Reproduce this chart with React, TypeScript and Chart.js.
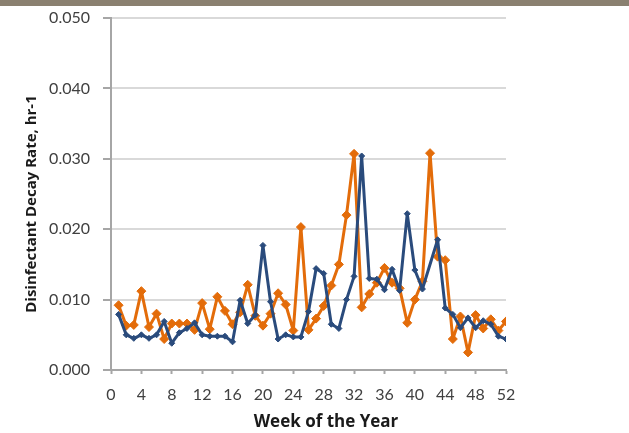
import { useEffect, useRef } from "react";
import { Chart, registerables } from "chart.js";

Chart.register(...registerables);

// Week numbers along the x axis
const weeks = [
  1, 2, 3, 4, 5, 6, 7, 8, 9, 10, 11, 12, 13,
  14, 15, 16, 17, 18, 19, 20, 21, 22, 23, 24, 25, 26,
  27, 28, 29, 30, 31, 32, 33, 34, 35, 36, 37, 38, 39,
  40, 41, 42, 43, 44, 45, 46, 47, 48, 49, 50, 51, 52,
];

// Decay rate, hr-1 (blue series; week 42 has no reading)
const blueRates: (number | null)[] = [
  0.0079, 0.0050, 0.0045, 0.0050, 0.0045, 0.0050, 0.0069, 0.0038, 0.0053, 0.0059, 0.0067, 0.0050, 0.0048,
  0.0048, 0.0048, 0.0040, 0.0099, 0.0066, 0.0078, 0.0177, 0.0097, 0.0044, 0.0050, 0.0047, 0.0047, 0.0083,
  0.0144, 0.0137, 0.0065, 0.0059, 0.0100, 0.0133, 0.0304, 0.0130, 0.0129, 0.0114, 0.0143, 0.0113, 0.0222,
  0.0142, 0.0115, null, 0.0185, 0.0088, 0.0079, 0.0060, 0.0074, 0.0060, 0.0070, 0.0065, 0.0048, 0.0044,
];

// Decay rate, hr-1 (orange series)
const orangeRates: number[] = [
  0.0092, 0.0063, 0.0064, 0.0112, 0.0061, 0.0080, 0.0044, 0.0066, 0.0066, 0.0066, 0.0057, 0.0095, 0.0058,
  0.0104, 0.0084, 0.0065, 0.0082, 0.0121, 0.0077, 0.0063, 0.0080, 0.0109, 0.0093, 0.0056, 0.0203, 0.0057,
  0.0073, 0.0091, 0.0120, 0.0150, 0.0220, 0.0307, 0.0089, 0.0108, 0.0124, 0.0145, 0.0124, 0.0116, 0.0067,
  0.0100, 0.0126, 0.0308, 0.0161, 0.0156, 0.0044, 0.0076, 0.0025, 0.0078, 0.0059, 0.0072, 0.0056, 0.0069,
];

const xTitle = "Week of the Year";
const yTitle = "Disinfectant Decay Rate, hr-1";

const BLUE = "#2A4B7C";
const ORANGE = "#E36C0A";
const AXIS = "#A6A6A6";
const GRID = "#D9D9D9";

// Axis titles placed relative to the plot area
const axisTitles = {
  id: "axisTitles",
  afterDraw(chart: Chart) {
    const { ctx, chartArea } = chart;
    ctx.save();
    ctx.fillStyle = "#1a1a1a";
    ctx.textAlign = "center";
    ctx.textBaseline = "middle";
    ctx.font = 'bold 17px "Open Sans"';
    ctx.fillText(xTitle, chartArea.left + 215, chartArea.bottom + 52);
    ctx.font = 'bold 15px "Open Sans"';
    ctx.translate(32, chartArea.top + 186);
    ctx.rotate(-Math.PI / 2);
    ctx.fillText(yTitle, 0, 0);
    ctx.restore();
  },
};

export default function App() {
  const canvasRef = useRef<HTMLCanvasElement | null>(null);

  useEffect(() => {
    const canvas = canvasRef.current;
    if (!canvas) return;
    const chart = new Chart(canvas, {
      type: "line",
      data: {
        datasets: [
          {
            label: "Blue",
            data: weeks.map((w, i) => ({ x: w, y: blueRates[i] })),
            borderColor: BLUE,
            backgroundColor: BLUE,
            borderWidth: 3,
            borderJoinStyle: "round",
            pointStyle: "rectRot",
            pointRadius: 3,
            pointBorderWidth: 1,
            spanGaps: true,
            tension: 0,
          },
          {
            label: "Orange",
            data: weeks.map((w, i) => ({ x: w, y: orangeRates[i] })),
            borderColor: ORANGE,
            backgroundColor: ORANGE,
            borderWidth: 3,
            borderJoinStyle: "round",
            pointStyle: "rectRot",
            pointRadius: 4.5,
            pointBorderWidth: 1,
            tension: 0,
          },
        ],
      },
      options: {
        responsive: false,
        animation: false,
        devicePixelRatio: 1,
        layout: { padding: { left: 0, right: 123, top: 18, bottom: 0 } },
        plugins: {
          legend: { display: false },
          tooltip: { enabled: false },
        },
        scales: {
          x: {
            type: "linear",
            min: 0,
            max: 52,
            afterFit: (s: any) => {
              s.height = 63;
            },
            ticks: {
              stepSize: 4,
              padding: 11,
              color: "#404040",
              font: { family: "Lato", size: 16 },
            },
            grid: {
              drawOnChartArea: false,
              drawTicks: true,
              tickLength: 4,
              tickColor: AXIS,
              tickWidth: 2,
            },
            border: { color: AXIS, width: 2 },
          },
          y: {
            min: 0,
            max: 0.05,
            afterFit: (s: any) => {
              s.width = 111;
              s.paddingTop = 0;
              s.paddingBottom = 0;
            },
            ticks: {
              stepSize: 0.01,
              padding: 13,
              color: "#404040",
              font: { family: "Lato", size: 16 },
              callback: (v: any) => Number(v).toFixed(3),
            },
            grid: {
              color: GRID,
              lineWidth: 2,
              drawTicks: true,
              tickLength: 8,
              tickColor: AXIS,
              tickWidth: 2,
            },
            border: { color: AXIS, width: 2 },
          },
        },
      },
      plugins: [axisTitles],
    });
    return () => chart.destroy();
  }, []);

  return (
    <div
      style={{
        position: "fixed",
        left: 0,
        top: 0,
        width: 629,
        height: 433,
        background: "#ffffff",
        overflow: "hidden",
      }}
    >
      <div
        style={{
          position: "absolute",
          left: 0,
          top: 0,
          width: 629,
          height: 6,
          background: "#8A8070",
        }}
      />
      <canvas
        ref={canvasRef}
        width={629}
        height={433}
        style={{ display: "block", width: 629, height: 433 }}
      />
    </div>
  );
}
